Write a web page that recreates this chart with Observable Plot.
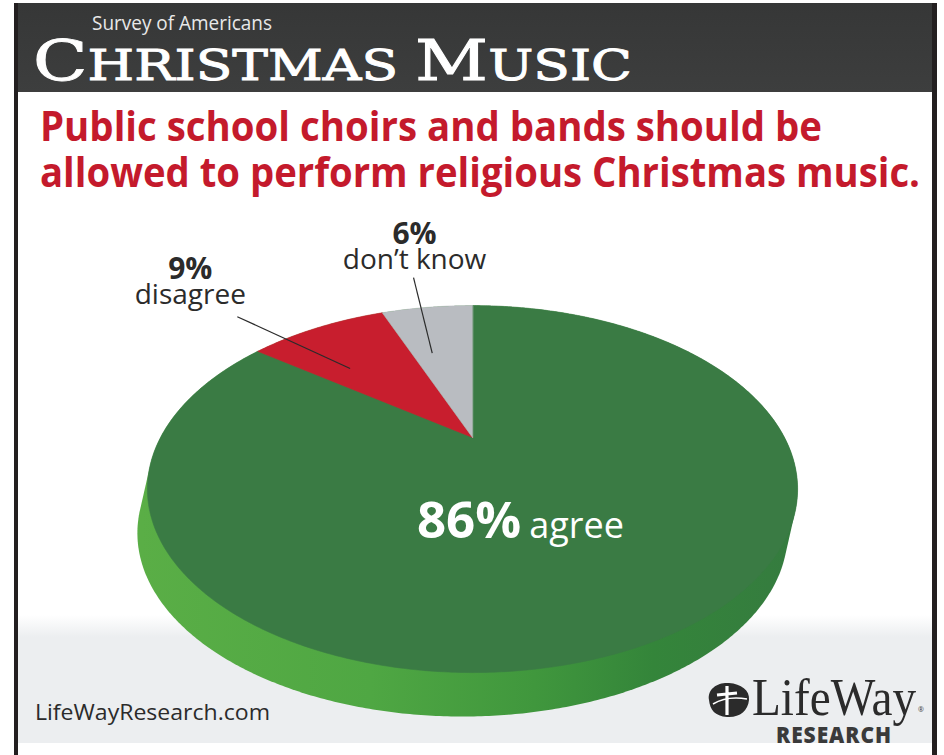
<!DOCTYPE html>
<html><head><meta charset="utf-8">
<script src="https://cdn.jsdelivr.net/npm/d3@7"></script>
<script src="https://cdn.jsdelivr.net/npm/@observablehq/plot@0.6"></script>
<style>
body{margin:0;background:#fff;}
#page{position:relative;width:944px;height:755px;overflow:hidden;background:#fff;}
.t{position:absolute;white-space:nowrap;line-height:0.78;transform-origin:0 0;}
#header{position:absolute;left:14px;top:3px;width:923px;height:89px;background:linear-gradient(#363737,#3d3e3e);}
#band{position:absolute;left:18px;top:615px;width:914px;height:128px;background:linear-gradient(#ffffff 0px,#eceef0 22px,#eceef0 100%);}
#lb{position:absolute;left:14px;top:3px;width:4px;height:752px;background:#231f20;}
#rb{position:absolute;left:932px;top:3px;width:5px;height:752px;background:#231f20;}
#chart{position:absolute;left:0;top:200px;}
</style></head>
<body>
<div id="page">
  <div id="band"></div>
  <div id="chart"></div>
  <div id="header"></div>
  <div id="lb"></div><div id="rb"></div>
  <div class="t" id="survey" style="font-family:'Open Sans';font-size:20px;color:#e8e8e8;">Survey of Americans</div>
  <div class="t" id="big" style="font-family:'DejaVu Serif';color:#fff;-webkit-text-stroke:0.9px #fff;"><span style="font-size:56px">C</span><span style="font-size:42px">HRISTMAS</span><span style="font-size:42px"> </span><span style="font-size:56px">M</span><span style="font-size:42px">USIC</span></div>
  <div class="t" id="q1" style="font-family:'Open Sans';font-weight:700;font-size:42px;color:#c41a2c;">Public school choirs and bands should be</div>
  <div class="t" id="q2" style="font-family:'Open Sans';font-weight:700;font-size:42px;color:#c41a2c;">allowed to perform religious Christmas music.</div>
  <div class="t" id="site" style="font-family:'Open Sans';font-size:22px;color:#2b2b2b;">LifeWayResearch.com</div>
  <svg style="position:absolute;left:703px;top:680px" width="50" height="40" viewBox="0 0 50 40">
    <path d="M6 20 C4 8 16 2 26 3 C38 4 47 10 46 20 C45 31 36 38 24 37 C12 36 7 30 6 20 Z" fill="#2b2b2b"/>
    <path d="M24 6 L24 35 M14 15 L34 13" stroke="#fff" stroke-width="3.2" fill="none"/>
    <path d="M10 24 C20 18 32 17 44 19" stroke="#fff" stroke-width="1.5" fill="none"/>
  </svg>
  <div class="t" id="lw" style="font-family:'Liberation Serif';font-size:52px;color:#2b2b2b;">LifeWay</div>
  <div class="t" id="rs" style="font-family:'Open Sans';font-weight:800;font-size:22px;color:#3a3a3a;letter-spacing:1px;">RESEARCH</div>
  <div class="t" id="reg" style="font-family:'Open Sans';font-size:7px;color:#3a3a3a;">®</div>
</div>
<script>
// ---- data ----
const categories = ["agree", "disagree", "don’t know"];
const values = [86, 9, 6];
const pctLabels = ["86%", "9%", "6%"];

// ---- styling / geometry ----
const sliceColors = ["#3a7b44", "#c81e2e", "#b9bcc1"];
const W = 944, H = 555, TOP = 200;
const cx = 472, cy = 437, A = 312, C = 169;   // pixel units of normalized disc
const k = 0.281;                               // perspective strength
const depth = 44 / C, shiftX = -10 / A;

function project(r, a) {
  const X = r * Math.sin(a), Z = r * Math.cos(a), w = 1 + k * Z;
  return [X / w, Z / w];
}
const rows = categories.map((c, i) => ({category: c, value: values[i], pct: pctLabels[i], color: sliceColors[i]}));
const arcs = d3.pie().sort(null).value(d => d.value).startAngle(0).endAngle(2 * Math.PI)(rows);

// slice polygons
const slicePts = [];
arcs.forEach((a, i) => {
  slicePts.push({id: i, x: 0, y: 0, fill: a.data.color});
  const n = Math.max(2, Math.ceil((a.endAngle - a.startAngle) / (Math.PI / 360)));
  for (let j = 0; j <= n; j++) {
    const t = a.startAngle + (a.endAngle - a.startAngle) * j / n;
    const [x, y] = project(1, t);
    slicePts.push({id: i, x, y, fill: a.data.color});
  }
});

// side (extrusion) hull
const rim = d3.range(0, 720).map(j => project(1, j * Math.PI / 360));
const hull = d3.polygonHull(rim.concat(rim.map(([x, y]) => [x + shiftX, y - depth])))
  .map(([x, y]) => ({x, y}));

// leader lines + labels
const mid = a => (a.startAngle + a.endAngle) / 2;
const deg = Math.PI / 180;
const leaderSpec = [
  {i: 1, rIn: 0.64, aIn: -6.4, rOut: 1.30, aOut: -9.1, dxL: -47, dyL: -11},
  {i: 2, rIn: 0.60, aIn: -3.8, rOut: 1.315, aOut: -0.6, dxL: 1, dyL: -7}
];
const leaders = leaderSpec.map(s => {
  const a = arcs[s.i];
  const [x1, y1] = project(s.rIn, mid(a) + s.aIn * deg);
  const [x2, y2] = project(s.rOut, mid(a) + s.aOut * deg);
  return {...s, x1, y1, x2, y2, text: a.data.pct + "\n" + a.data.category};
});
const agreeArc = arcs[0];
const [ax, ay] = project(0.53, mid(agreeArc) + 11.5 * deg);
const agreeLabel = [{x: ax, y: ay, pct: agreeArc.data.pct, label: agreeArc.data.category}];

const labelMarks = leaders.map(l =>
  Plot.text([l], {x: "x2", y: "y2", text: "text", dx: l.dxL, dy: l.dyL, lineAnchor: "bottom", lineHeight: 0.9,
    fontFamily: "Open Sans", fontSize: 28, fill: "#2b2b2b"}));

const chart = Plot.plot({
  width: W, height: H, margin: 0,
  style: {background: "transparent", overflow: "visible"},
  x: {domain: [(0 - cx) / A, (W - cx) / A], range: [0, W], axis: null},
  y: {domain: [(cy - (TOP + H)) / C, (cy - TOP) / C], range: [H, 0], axis: null},
  color: {type: "identity"},
  marks: [
    Plot.line(hull, {x: "x", y: "y", fill: "url(#sideGrad)", stroke: "none", curve: "linear-closed"}),
    Plot.line(slicePts, {x: "x", y: "y", z: "id", fill: "fill", stroke: "fill", strokeWidth: 0.6, curve: "linear-closed"}),
    Plot.link(leaders, {x1: "x1", y1: "y1", x2: "x2", y2: "y2", stroke: "#2b2b2b", strokeWidth: 1.2}),
    ...labelMarks,
    Plot.text(agreeLabel, {x: "x", y: "y", text: "pct", textAnchor: "end", dx: -2, lineAnchor: "bottom",
      fontFamily: "Open Sans", fontWeight: 700, fontSize: 51, fill: "#fff"}),
    Plot.text(agreeLabel, {x: "x", y: "y", text: "label", textAnchor: "start", dx: 6, lineAnchor: "bottom",
      fontFamily: "Open Sans", fontSize: 36, fill: "#fff"})
  ]
});
// bold, slightly larger percentage line in the two-line labels
d3.select(chart).selectAll("text tspan").each(function() {
  if (/%$/.test(this.textContent) && this.nextSibling) {
    d3.select(this).attr("font-weight", 700).attr("font-size", 30);
  }
});
const defs = d3.select(chart).insert("defs", ":first-child");
const g = defs.append("linearGradient").attr("id", "sideGrad").attr("gradientUnits", "userSpaceOnUse")
  .attr("x1", 140).attr("y1", 0).attr("x2", 797).attr("y2", 0);
[[0, "#5aae46"], [0.35, "#4fa743"], [0.6, "#40973d"], [0.78, "#34853a"], [1, "#357b3f"]]
  .forEach(([o, c]) => g.append("stop").attr("offset", o).attr("stop-color", c));
document.getElementById("chart").appendChild(chart);

// ---- place HTML texts by baseline ----
function place(id, x, baseline, width) {
  const el = document.getElementById(id);
  el.style.left = x + "px"; el.style.top = "0px";
  const m = document.createElement("span");
  m.style.cssText = "display:inline-block;width:0;height:0;vertical-align:baseline";
  el.appendChild(m);
  const b = m.getBoundingClientRect().top - el.getBoundingClientRect().top;
  el.style.top = (baseline - b) + "px";
  if (width) {
    const w = el.getBoundingClientRect().width;
    el.style.transform = `scaleX(${width / w})`;
  }
}
place("survey", 92, 30, 180);
place("big", 33, 80, 599);
place("q1", 40, 141, 782);
place("q2", 40, 187, 880);
place("site", 35, 720, 235);
place("lw", 752, 715, 164);
place("rs", 776, 743, 116);
place("reg", 918, 712);
</script>
</body></html>
